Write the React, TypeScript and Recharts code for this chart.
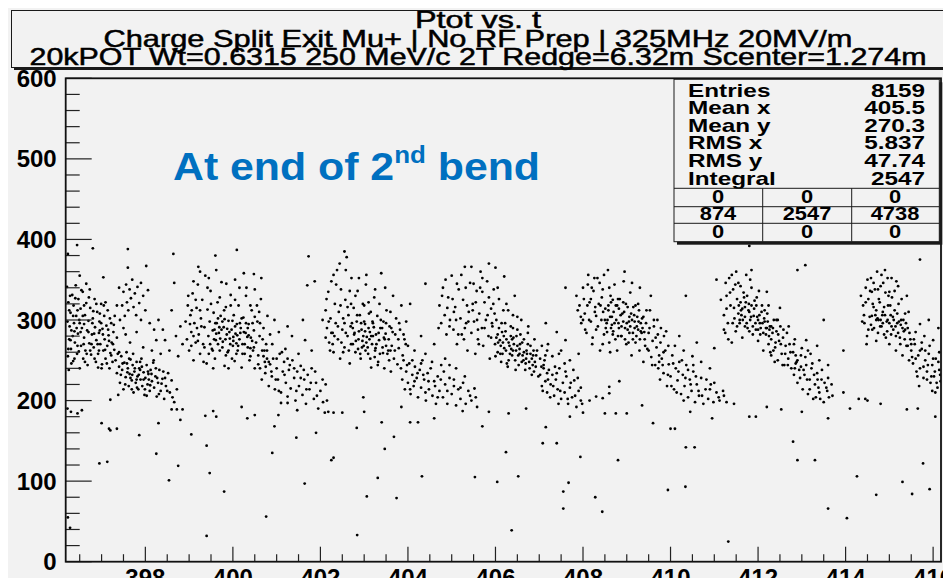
import { ScatterChart, Scatter, XAxis, YAxis } from 'recharts';

// axis ticks (labels every 2 ns / 100 MeV/c, minor ticks in between)
const xLabels = [398, 400, 402, 404, 406, 408, 410, 412, 414, 416];
const yLabels = [0, 100, 200, 300, 400, 500, 600];
const xTicks: number[] = [];
for (let v = 396.5; v <= 416.01; v += 0.5) xTicks.push(+v.toFixed(1));
const yTicks: number[] = [];
for (let v = 0; v <= 600; v += 20) yTicks.push(v);

const titleLines = [
  'Ptot vs. t',
  'Charge Split Exit Mu+ | No RF Prep | 325MHz 20MV/m',
  '20kPOT Wt=0.6315 250 MeV/c 2T Redge=6.32m Scenter=1.274m',
];
const statNames = ['Entries', 'Mean x', 'Mean y', 'RMS x', 'RMS y', 'Integral'];
const statValues = ['8159', '405.5', '270.3', '5.837', '47.74', '2547'];
const overflowRows = [
  ['0', '0', '0'],
  ['874', '2547', '4738'],
  ['0', '0', '0'],
];

// [t, Ptot], one bunch at a time
const bunchA = [
  [396.21,341],[396.24,322],[396.22,298],[396.26,276],[396.23,255],[396.25,238],[396.29,309],[396.31,287],[396.3,264],[396.33,331],
  [396.35,249],[396.37,296],[396.36,318],[396.39,272],[396.41,343],[396.42,305],[396.44,258],[396.46,283],[396.47,326],[396.5,240],
  [396.49,300],[396.53,268],[396.52,314],[396.55,290],[396.57,335],[396.58,252],[396.6,278],[396.62,306],[396.63,262],[396.65,321],
  [396.67,287],[396.68,244],[396.7,299],[396.72,271],[396.74,315],[396.73,338],[396.76,257],[396.78,282],[396.8,302],[396.82,266],
  [396.84,326],[396.85,291],[396.87,248],[396.88,275],[396.9,310],[396.92,258],[396.94,284],[396.95,298],[396.97,270],[396.99,320],
  [397.01,245],[397.02,289],[397.04,262],[397.06,305],[397.07,276],[397.09,252],[397.11,293],[397.13,268],[397.14,312],[397.16,281],
  [397.18,240],[397.2,259],[397.22,296],[397.23,272],[397.25,248],[397.27,285],[397.29,263],[397.3,305],[396.28,330],[396.45,312],
  [396.6,295],[396.34,280],[396.77,270],[396.96,287],[397.08,263],
  [397.32,250],[397.35,234],[397.37,258],[397.4,242],[397.42,222],[397.45,255],[397.47,238],[397.5,214],[397.52,247],[397.55,229],
  [397.57,260],[397.6,240],[397.62,218],[397.64,233],[397.66,251],[397.69,225],[397.71,244],[397.73,210],[397.75,236],[397.78,222],
  [397.8,248],[397.82,230],[397.84,214],[397.86,240],[397.89,226],[397.91,252],[397.93,218],[397.96,235],[397.98,207],[398.0,228],
  [398.03,244],[398.05,220],[398.07,233],[398.1,212],[398.12,238],[398.15,224],[398.18,247],[398.2,216],[398.23,230],[398.26,205],
  [398.29,222],[398.32,238],[398.35,212],[398.39,227],[398.43,202],[398.47,218],[398.52,234],[398.56,210],[398.6,225],[398.66,198],
  [398.72,214],[397.58,246],[397.88,238],[398.08,226],[397.7,232],
  [397.47,318],[397.5,335],[397.53,305],[397.56,344],[397.58,322],[397.61,312],[397.64,338],[397.67,327],[397.7,350],[397.73,316],
  [397.76,333],[397.79,306],[397.82,341],[397.86,321],[397.9,346],[397.95,330],[398.0,312],[398.06,337],
  [397.35,278],[397.5,290],[397.65,272],[397.8,285],[397.95,266],[398.1,296],[398.25,275],[398.4,288],[398.55,262],[398.7,280],
  [398.85,270],[398.3,300],[398.6,312],[398.15,262],[397.42,300],
];
const fillA = [
  [396.27,292],[396.71,328],[396.38,252],[397.05,318],[396.59,270],[396.92,241],[396.26,312],[397.19,302],[396.48,261],[396.83,283],
  [397.12,246],[396.4,327],[396.66,258],[396.99,296],[396.31,246],[397.26,270],[396.54,337],[396.79,296],[397.03,282],[396.43,290],
  [396.88,320],[396.62,248],[397.15,288],[396.35,305],[396.74,262],[396.96,308],[396.52,285],[397.22,256],[396.29,275],[396.84,252],
  [397.09,322],[396.57,305],[396.45,268],[396.91,270],[396.7,285],[397.28,294],[396.24,264],[396.65,345],[397.0,240],[396.38,286],
  [396.81,311],[397.17,274],[396.5,296],[396.94,262],[396.6,318],
  [397.44,232],[397.81,216],[398.14,233],[397.63,252],[398.37,221],[397.92,242],[397.54,220],[398.24,240],[397.72,258],[398.45,228],
  [397.99,214],[397.66,228],[398.31,208],[397.85,232],[397.48,246],[398.11,219],[397.76,240],[398.5,212],[397.96,226],[398.19,250],
  [397.59,235],[398.03,206],[397.88,248],[398.41,236],[397.69,214],[398.27,228],[397.4,260],[398.62,204],[397.8,226],[398.06,236],
  [397.35,318],[397.55,282],[398.2,288],[398.45,275],[398.8,292],[398.35,258],[397.9,300],[398.75,255],[397.6,365],[397.4,340],
];

const bunchB = [
  [398.92,298],[398.95,276],[398.97,318],[399.0,262],[399.03,306],[399.05,285],[399.08,333],[399.1,250],[399.12,296],[399.15,272],
  [399.17,315],[399.2,344],[399.22,282],[399.25,258],[399.27,302],[399.3,325],[399.32,270],[399.35,291],[399.37,355],[399.4,246],
  [399.42,313],[399.44,280],[399.47,298],[399.49,336],[399.52,264],[399.54,287],[399.56,309],[399.59,252],[399.61,275],[399.63,296],
  [399.65,322],[399.68,284],[399.7,262],[399.72,305],[399.74,347],[399.77,273],[399.79,291],[399.81,243],[399.84,316],[399.86,282],
  [399.88,260],[399.9,299],[399.93,277],[399.95,331],[399.97,288],[400.0,268],[400.02,306],[400.04,249],[400.06,283],[400.09,295],
  [400.11,262],[400.13,318],[400.15,276],[400.18,290],[400.2,241],[400.22,270],[400.24,303],[400.27,258],[400.29,284],[400.31,340],
  [400.34,266],[400.36,295],[400.38,250],[400.41,278],[400.43,312],[400.46,262],[400.48,287],[400.5,240],[400.53,272],[400.56,298],
  [400.58,256],[400.61,280],[400.64,326],[400.67,262],[400.7,290],[400.73,248],[400.76,270],[400.79,305],[399.58,288],[399.66,270],
  [399.76,298],[399.83,276],[399.92,285],[400.01,279],[400.08,271],[400.16,296],[400.25,285],[400.33,279],[400.45,296],[399.48,270],
  [399.18,290],[399.06,312],[400.6,310],[399.98,252],[400.4,265],
  [399.25,360],[399.45,352],[399.62,362],[399.85,345],[400.05,350],[400.25,358],[400.5,338],[399.1,348],
  [400.62,240],[400.66,226],[400.7,255],[400.74,234],[400.78,262],[400.82,218],[400.85,245],[400.89,230],[400.92,252],[400.96,214],
  [401.0,240],[401.03,226],[401.07,258],[401.1,210],[401.14,236],[401.17,248],[401.21,222],[401.25,205],[401.28,238],[401.32,215],
  [401.36,250],[401.4,228],[401.43,200],[401.47,236],[401.51,218],[401.55,243],[401.59,207],[401.63,226],[401.67,196],[401.71,232],
  [401.75,214],[401.8,240],[401.85,202],[401.9,222],[401.95,190],[402.0,212],[402.06,198],[402.12,220],[402.18,186],[400.9,270],
  [401.2,264],[401.5,258],[401.8,262],[401.65,275],[401.35,280],[401.05,285],[400.95,300],[401.25,292],[401.6,300],
];
const fillB = [
  [399.62,283],[400.12,268],[399.81,301],[400.36,281],[399.54,262],[400.05,292],[399.71,277],[400.22,258],[399.94,270],[400.44,274],
  [399.66,302],[400.17,284],[399.87,289],[400.3,296],[399.57,276],[400.08,258],[399.76,266],[400.27,270],[399.99,299],[400.4,255],
  [399.69,291],[400.2,302],[399.9,262],[400.34,290],[399.6,296],[400.1,281],[399.84,256],[400.48,266],[399.74,288],[400.01,274],
  [399.05,268],[399.33,248],[398.98,330],[399.28,292],[400.62,296],[400.72,262],[399.15,325],[400.55,318],[399.42,340],[400.85,282],
  [399.1,280],[400.68,276],[399.35,266],[400.5,304],[399.02,295],[399.5,320],[400.3,330],[399.95,318],[400.15,340],[399.7,328],
  [399.2,274],[400.78,252],[399.45,258],[400.58,245],[399.25,312],[399.8,312],[400.4,318],[399.9,240],[400.05,325],[399.55,240],
  [400.82,248],[401.18,232],[401.45,212],[400.98,226],[401.62,238],[401.3,244],[401.05,212],[401.78,222],[400.88,236],[401.55,228],
  [401.92,206],[401.25,252],[400.75,242],[401.4,240],[401.68,214],[402.05,226],[401.12,260],[401.88,236],[402.15,200],[401.0,252],
];

const bunchC = [
  [402.12,312],[402.15,290],[402.18,335],[402.2,272],[402.23,302],[402.25,348],[402.28,284],[402.3,260],[402.33,320],[402.35,296],
  [402.38,362],[402.4,276],[402.42,310],[402.45,252],[402.47,338],[402.5,288],[402.52,302],[402.55,266],[402.57,325],[402.6,378],
  [402.62,280],[402.64,306],[402.67,246],[402.69,292],[402.71,352],[402.74,270],[402.76,315],[402.78,284],[402.8,260],[402.83,298],
  [402.85,336],[402.87,276],[402.9,306],[402.92,252],[402.94,288],[402.97,320],[402.99,268],[403.02,295],[403.04,344],[403.06,279],
  [403.09,258],[403.11,308],[403.13,285],[403.16,241],[403.18,270],[403.2,296],[403.23,328],[403.25,262],[403.27,282],[403.3,305],
  [403.32,248],[403.34,275],[403.37,290],[403.39,358],[403.42,266],[403.44,298],[403.46,240],[403.49,283],[403.51,312],[403.53,258],
  [403.56,276],[403.58,292],[403.61,236],[403.63,268],[403.66,330],[403.68,252],[403.71,282],[403.73,302],[403.76,245],[403.79,265],
  [403.82,288],[403.85,318],[403.88,256],[403.92,276],[403.96,298],[402.88,286],[402.96,274],[403.03,262],[403.1,290],[403.2,280],
  [403.28,270],[403.36,258],[403.45,278],[403.55,262],[403.65,285],[402.72,296],[402.58,284],[402.48,272],[402.32,280],[402.22,262],
  [402.65,262],[403.15,310],[403.0,318],[403.5,296],[402.05,300],
  [403.84,240],[403.87,226],[403.9,250],[403.93,214],[403.96,236],[404.0,222],[404.03,246],[404.06,208],[404.1,232],[404.13,218],
  [404.16,242],[404.2,228],[404.23,204],[404.27,238],[404.3,216],[404.33,250],[404.37,226],[404.41,200],[404.45,234],[404.48,214],
  [404.52,240],[404.56,206],[404.6,224],[404.64,196],[404.68,230],[404.72,212],[404.76,244],[404.8,204],[404.85,220],[404.9,196],
  [404.95,228],[405.0,208],[405.05,218],[405.1,194],[405.15,214],[405.2,202],[405.26,222],[405.32,196],[405.38,212],[405.45,200],
  [405.52,215],[405.58,192],[404.15,262],[404.4,258],[404.6,270],[404.85,252],[405.1,240],[404.3,280],[404.0,268],[404.7,290],
  [405.3,230],
];
const fillC = [
  [402.86,264],[403.22,291],[402.77,282],[403.43,259],[403.05,272],[402.93,296],[403.33,284],[403.14,252],[402.81,274],[403.5,268],
  [403.02,286],[403.26,265],[402.91,258],[403.41,290],[403.12,276],[402.74,290],[403.57,250],[403.19,298],[402.98,280],[403.31,244],
  [403.08,266],[402.84,306],[403.47,276],[403.24,254],[402.95,266],[403.38,300],[403.16,280],[403.6,262],[402.7,270],[403.0,298],
  [402.14,326],[402.36,344],[402.58,362],[402.25,284],[402.46,318],[402.67,336],[402.19,298],[402.4,292],[402.62,316],[402.3,356],
  [402.52,260],[402.12,278],[402.8,330],[403.05,356],[403.35,320],[403.6,310],[403.8,296],[403.95,270],[402.44,370],[402.88,352],
  [403.25,338],[403.7,262],[403.9,282],[402.28,270],[402.7,320],[403.48,340],[403.78,276],[402.55,296],[403.1,322],[403.62,290],
  [403.98,244],[404.35,232],[404.62,218],[404.1,250],[404.47,224],[404.9,212],[404.22,234],[404.75,226],[404.05,214],[404.55,248],
  [405.05,226],[404.4,210],[404.82,236],[405.2,216],[404.3,246],[404.68,204],[405.42,206],[404.15,224],[404.95,244],[405.55,204],
];

const bunchD = [
  [404.72,318],[404.76,296],[404.8,340],[404.84,306],[404.88,282],[404.92,328],[404.96,300],[405.0,355],[405.04,288],[405.08,316],
  [405.12,270],[405.16,338],[405.2,302],[405.23,282],[405.26,325],[405.3,366],[405.33,296],[405.36,262],[405.39,310],[405.42,346],
  [405.45,284],[405.48,320],[405.51,298],[405.54,258],[405.57,336],[405.6,276],[405.63,308],[405.66,360],[405.69,290],[405.72,268],
  [405.75,322],[405.78,300],[405.81,348],[405.84,280],[405.87,252],[405.9,314],[405.93,292],[405.96,338],[405.99,270],[406.02,300],
  [406.05,282],[406.08,326],[406.11,258],[406.14,296],[406.17,272],[406.2,354],[406.23,286],[406.26,246],[406.29,312],[406.32,268],
  [406.35,292],[406.38,256],[406.41,278],[406.44,330],[406.47,262],[406.5,288],[406.53,244],[406.56,270],[406.59,300],[406.62,256],
  [406.65,276],[406.68,238],[406.71,262],[406.74,284],[406.77,248],[406.8,268],[406.83,232],[406.86,256],[406.89,276],[406.92,242],
  [406.95,262],[406.98,230],[407.02,252],[407.06,268],[407.1,240],[407.14,256],[407.18,234],[406.0,255],[406.1,275],[406.2,265],
  [406.3,250],[406.4,262],[406.5,268],[406.6,248],[406.7,252],[406.8,258],[406.9,248],[406.05,260],[406.25,276],[406.45,250],
  [406.65,260],[406.85,244],[406.15,285],[406.35,280],[406.55,258],[405.5,345],[405.7,335],[405.95,320],[406.18,312],[406.4,306],
  [405.3,290],[405.1,300],[404.9,315],[405.85,370],[406.0,365],[405.6,288],
  [407.02,232],[407.06,218],[407.1,244],[407.14,224],[407.18,210],[407.22,238],[407.26,220],[407.3,232],[407.34,206],[407.38,226],
  [407.42,214],[407.46,240],[407.5,202],[407.54,222],[407.58,210],[407.62,230],[407.66,196],[407.7,216],[407.75,204],[407.8,225],
  [407.85,192],[407.9,212],[407.95,200],[407.3,255],[407.5,262],[407.7,250],[407.9,258],[407.2,270],[407.6,275],[407.4,285],
  [407.15,296],
];
const fillD = [
  [406.06,272],[406.52,256],[406.24,262],[406.78,240],[406.13,248],[406.61,272],[406.33,258],[406.87,262],[406.42,270],[406.19,280],
  [406.69,246],[406.28,242],[406.57,282],[406.08,290],[406.83,252],[406.38,276],[406.74,270],[406.16,258],[406.46,238],[406.93,256],
  [406.22,296],[406.64,250],[406.36,264],[406.02,278],[406.88,236],[406.48,280],[406.72,258],[406.12,268],[406.55,264],[406.3,272],
  [404.78,330],[405.05,310],[405.32,340],[405.58,300],[405.85,328],[404.95,292],[405.22,356],[405.48,312],[405.75,290],[405.02,326],
  [405.28,276],[405.55,322],[405.82,306],[405.12,345],[405.38,298],[405.65,340],[405.92,296],[404.86,350],[405.45,366],[405.7,352],
  [405.98,308],[406.25,320],[406.5,304],[406.75,292],[405.15,282],[405.62,270],[406.05,340],[406.4,290],[405.35,318],[405.9,278],
  [407.05,242],[407.32,218],[407.6,236],[407.2,226],[407.48,212],[407.82,206],[407.12,250],[407.4,234],[407.72,222],[407.95,216],
  [407.25,204],[407.58,246],[407.88,228],[407.08,212],[407.45,258],[407.65,202],[407.36,242],[407.98,196],[407.18,262],[407.78,238],
];

const bunchE = [
  [407.92,318],[407.96,296],[408.0,340],[408.04,308],[408.08,284],[408.12,356],[408.15,322],[408.18,298],[408.21,270],[408.24,336],
  [408.27,310],[408.3,288],[408.33,352],[408.36,320],[408.39,262],[408.42,300],[408.45,338],[408.48,282],[408.51,314],[408.54,296],
  [408.57,362],[408.6,272],[408.63,330],[408.66,304],[408.69,286],[408.72,344],[408.75,318],[408.78,262],[408.81,296],[408.84,326],
  [408.87,280],[408.9,308],[408.93,348],[408.96,290],[408.99,270],[409.02,316],[409.05,298],[409.08,334],[409.11,256],[409.14,284],
  [409.17,306],[409.2,272],[409.23,292],[409.26,320],[409.29,262],[409.32,286],[409.35,302],[409.38,248],[409.41,276],[409.44,296],
  [409.47,264],[409.5,284],[409.53,312],[409.56,254],[409.59,274],[409.62,292],[409.65,244],[409.68,266],[409.71,282],[409.74,256],
  [409.77,272],[408.5,300],[408.58,318],[408.64,290],[408.7,310],[408.76,300],[408.82,314],[408.88,292],[408.94,310],[409.0,296],
  [409.06,284],[409.12,300],[409.18,290],[409.24,304],[409.3,276],[409.36,290],[408.55,285],[408.68,325],[408.8,280],[408.92,322],
  [409.04,272],[409.15,316],[409.27,298],[409.4,285],[408.4,318],[408.3,305],[408.2,340],[408.1,318],[408.0,300],[407.85,330],
  [408.45,270],[408.62,260],[409.7,300],[409.55,330],[409.85,280],[409.95,268],
  [409.72,240],[409.76,226],[409.8,252],[409.84,234],[409.88,262],[409.92,218],[409.96,245],[410.0,230],[410.04,256],[410.08,214],
  [410.12,240],[410.16,225],[410.2,248],[410.24,208],[410.28,232],[410.32,218],[410.36,244],[410.4,204],[410.44,226],[410.48,212],
  [410.52,236],[410.56,198],[410.6,220],[410.65,206],[410.7,228],[410.75,196],[410.8,214],[410.86,202],[410.92,220],[410.98,198],
  [411.05,210],[411.12,200],[411.2,212],[411.28,198],[410.1,268],[410.3,262],[410.5,255],[410.7,248],[410.9,240],[410.2,280],
  [410.6,272],[411.0,265],
];
const fillE = [
  [408.62,304],[409.08,292],[408.78,318],[409.22,280],[408.52,290],[408.96,276],[408.72,296],[409.32,296],[408.86,306],[409.14,276],
  [408.58,312],[409.02,288],[408.68,282],[409.28,312],[408.92,298],[409.2,318],[408.82,290],[409.38,304],[408.64,322],[409.1,308],
  [408.74,276],[409.26,288],[408.98,320],[408.56,300],[409.18,298],[408.88,280],[409.34,284],[408.8,326],[409.06,304],[408.66,294],
  [407.95,304],[408.18,326],[408.38,346],[408.05,288],[408.28,316],[408.48,356],[408.11,344],[408.34,292],[407.88,312],[408.22,278],
  [408.43,328],[408.02,326],[408.26,352],[408.46,310],[408.14,300],[409.45,312],[409.62,300],[409.78,290],[409.5,262],[409.66,278],
  [409.84,260],[409.58,244],[409.42,268],[409.74,248],[409.9,286],[409.3,340],[409.12,346],[408.95,360],[408.6,340],[409.52,290],
  [409.82,244],[410.18,236],[410.46,220],[409.94,232],[410.34,228],[410.64,212],[410.06,246],[410.4,238],[410.72,206],[410.02,218],
  [410.58,230],[410.9,214],[410.26,250],[410.82,226],[411.1,204],[410.14,210],[410.52,244],[411.0,222],[411.22,206],[410.3,200],
];

const bunchF = [
  [411.22,306],[411.25,284],[411.28,330],[411.31,296],[411.34,352],[411.37,318],[411.4,272],[411.43,338],[411.46,302],[411.49,286],
  [411.52,326],[411.55,346],[411.58,296],[411.61,312],[411.64,278],[411.67,334],[411.7,304],[411.73,356],[411.76,290],[411.79,320],
  [411.82,300],[411.85,340],[411.88,282],[411.91,314],[411.94,296],[411.97,328],[412.0,274],[412.03,306],[412.06,290],[412.09,318],
  [412.12,262],[412.15,298],[412.18,282],[412.21,308],[412.24,270],[412.27,292],[412.3,256],[412.33,284],[412.36,300],[412.39,266],
  [412.42,286],[412.45,250],[412.48,274],[412.51,292],[412.54,258],[412.57,278],[412.6,244],[412.63,268],[412.66,284],[412.69,252],
  [412.72,270],[412.76,240],[412.8,260],[412.84,276],[412.88,248],[411.6,322],[411.7,316],[411.8,310],[411.9,305],[412.0,300],
  [412.1,296],[412.2,290],[412.3,276],[412.4,272],[411.65,300],[411.75,330],[411.85,318],[411.95,288],[412.05,282],[412.15,312],
  [412.25,280],[412.35,262],[411.45,315],[411.55,308],[411.5,360],[411.85,362],[412.2,335],[412.5,315],[412.9,362],[413.08,368],
  [411.15,325],[412.45,300],[412.7,292],
  [412.82,232],[412.86,246],[412.9,222],[412.94,238],[412.98,256],[413.02,214],[413.06,232],[413.1,244],[413.14,208],[413.18,226],
  [413.22,240],[413.26,202],[413.3,220],[413.35,234],[413.4,210],[413.45,226],[413.5,198],[413.56,216],[413.62,204],[413.68,220],
  [413.0,265],[413.2,258],[413.4,250],[413.6,244],[413.1,275],[413.35,268],
];
const fillF = [
  [411.62,306],[411.96,318],[411.74,296],[412.14,302],[411.56,318],[411.88,292],[412.22,298],[411.68,328],[412.04,296],[411.8,286],
  [412.18,290],[411.58,300],[411.92,324],[411.7,292],[412.08,310],[411.84,304],[412.26,288],[411.64,314],[412.0,288],[411.78,312],
  [412.12,284],[411.52,292],[411.98,304],[411.72,322],[412.3,292],
  [411.28,314],[411.42,296],[411.36,334],[411.22,288],[411.48,344],[411.32,276],[411.4,356],[411.6,342],[411.82,350],[412.02,336],
  [412.24,318],[412.42,300],[412.58,288],[412.74,260],[412.38,248],[412.62,258],[412.52,270],[412.82,270],[412.46,282],[412.68,244],
  [412.28,260],[412.56,244],[412.86,256],[411.26,346],[412.34,290],
  [412.84,240],[413.12,226],[413.38,216],[412.96,228],[413.24,246],[413.52,222],[413.04,238],[413.32,204],[413.6,228],[412.9,250],
  [413.18,214],[413.46,238],[413.7,206],[413.08,254],[413.28,232],[413.42,202],[413.58,212],[413.14,262],[412.98,242],[413.36,226],
];

const bunchG = [
  [414.4,318],[414.43,296],[414.46,340],[414.49,280],[414.52,326],[414.55,304],[414.58,352],[414.61,288],[414.64,316],[414.67,338],
  [414.7,274],[414.73,302],[414.76,326],[414.79,292],[414.82,356],[414.85,310],[414.88,282],[414.91,334],[414.94,298],[414.97,318],
  [415.0,270],[415.03,306],[415.06,328],[415.09,288],[415.12,312],[415.15,262],[415.18,296],[415.21,320],[415.24,278],[415.27,300],
  [415.3,256],[415.33,286],[415.36,308],[415.39,268],[415.42,290],[415.45,250],[415.48,276],[414.6,305],[414.7,312],[414.8,300],
  [414.9,306],[415.0,296],[415.1,300],[415.2,284],[415.3,290],[414.65,290],[414.75,300],[414.85,296],[414.95,286],[415.05,292],
  [415.15,280],[415.25,270],[415.35,276],[414.6,335],[414.8,342],[415.0,335],[415.2,342],[415.05,352],[414.9,362],[414.5,350],
  [414.35,330],[415.7,375],[415.4,330],
  [415.5,262],[415.54,246],[415.58,270],[415.62,236],[415.66,256],[415.7,240],[415.74,264],[415.78,228],[415.82,250],[415.86,236],
  [415.9,258],[415.94,222],[415.98,244],[416.02,230],[416.06,252],[416.1,216],[416.14,238],[416.17,224],[415.6,285],[415.8,280],
  [416.0,275],[416.12,290],[415.9,300],[415.7,295],[416.05,210],
];
const fillG = [
  [414.68,306],[415.02,318],[414.82,292],[415.18,308],[414.62,320],[414.96,300],[415.26,294],[414.74,284],[415.08,304],[414.88,316],
  [415.32,300],[414.58,294],[414.92,278],[415.14,292],[414.78,322],[415.22,298],[414.7,300],[415.04,282],[414.84,306],[415.36,288],
  [414.42,306],[414.52,288],[414.46,322],[414.56,336],[414.64,346],[414.74,338],[414.86,346],[414.98,330],[415.12,336],[415.28,326],
  [415.44,310],[415.38,296],[415.46,284],[415.5,270],[415.42,268],[414.48,270],[414.38,298],[414.96,352],[415.16,348],[414.72,360],
  [415.52,254],[415.7,262],[415.88,244],[416.04,236],[415.6,252],[415.78,242],[415.96,230],[416.12,248],[415.64,230],[415.82,262],
  [416.0,252],[416.16,232],[415.56,276],[415.74,272],[415.92,268],[416.08,222],[415.68,218],[415.86,226],[416.14,260],[415.98,212],
];

const stragglers = [
  [396.22,190],[396.3,186],[396.45,184],[396.55,188],[397.0,172],[397.17,165],[397.35,165],[396.95,122],[397.13,124],[396.23,55],
  [396.28,42],[396.23,382],[396.44,393],[396.8,389],[397.6,388],[396.5,355],[397.04,353],[397.2,163],[397.86,157],[398.25,134],
  [399.4,144],[400.9,135],[401.45,154],[402.3,129],[402.83,166],[397.2,201],[397.38,207],[398.8,176],[398.6,189],[398.72,189],
  [398.85,189],[399.37,181],[399.62,180],[399.55,187],[400.33,178],[400.5,182],[401.04,182],[401.47,188],[402.1,185],[402.3,185],
  [402.5,185],[401.1,197],[401.25,197],[403.4,173],[403.68,155],[403.47,140],[404.05,173],[404.23,173],[402.98,204],[405.25,187],
  [405.85,186],[406.3,184],[407.15,167],[407.08,147],[407.4,147],[406.24,136],[407.94,130],[408.0,185],[408.5,184],[408.75,184],
  [409.0,184],[408.6,209],[408.83,224],[408.6,217],[408.15,200],[408.3,205],[408.45,203],[407.44,196],[410.0,165],[410.1,165],
  [410.35,142],[410.55,142],[410.95,178],[411.8,180],[411.95,180],[412.53,189],[412.8,149],[415.4,189],[413.3,126],[413.95,210],
  [414.3,202],[414.45,202],[414.5,200],[411.8,392],[398.54,101],[398.75,119],[399.47,110],[399.4,32],[399.8,87],[400.76,56],
  [401.64,97],[402.25,126],[402.84,33],[403.06,81],[403.31,104],[403.74,79],[404.32,106],[405.53,105],[406.04,99],[406.37,39],
  [406.52,106],[407.55,87],[407.55,66],[407.67,98],[408.28,80],[408.44,62],[408.8,126],[409.94,89],[410.34,93],[411.32,25],
  [412.9,126],[413.6,66],[414.03,54],[414.26,106],[414.7,83],[415.3,99],[415.52,84],[415.77,122],[415.92,90],[398.64,382],
  [400.09,387],[401.73,379],[402.55,385],[398.02,367],[399.21,366],[400.48,357],[400.65,352],[398.66,346],[401.7,343],[401.87,348],
  [398.3,172],[399.05,158],[400.2,192],[400.95,168],[401.9,160],[403.0,186],[403.85,192],[404.6,178],[405.7,168],[406.7,190],
  [407.7,180],[409.35,194],[409.6,172],[410.45,186],[411.45,196],[412.2,192],[413.0,186],[413.6,178],[414.1,190],[414.8,196],
  [415.65,190],[416.05,180],[399.6,380],[404.4,345],[404.05,320],[407.6,340],[410.35,330],[411.05,350],[413.5,300],[413.95,262],
];

const points = [
  ...bunchA, ...fillA, ...bunchB, ...fillB, ...bunchC, ...fillC, ...bunchD, ...fillD,
  ...bunchE, ...fillE, ...bunchF, ...fillF, ...bunchG, ...fillG, ...stragglers,
].map(([t, p]) => ({ t, p }));

const font = '"Liberation Sans", Arial, Helvetica, sans-serif';
const bg = '#f2f2f2';

const Dot = (props: any) => <circle cx={props.cx} cy={props.cy} r={1.4} fill="#000" />;

const XTick = (props: any) => {
  const { x, y, payload } = props;
  const major = xLabels.includes(payload.value);
  return (
    <g>
      <line x1={x} x2={x} y1={y} y2={y - (major ? 15 : 7.5)} stroke="#222" strokeWidth={1.2} />
      {major && (
        <text x={x} y={y + 24} textAnchor="middle" fontSize={24} fontWeight="bold" fontFamily={font} fill="#000">
          {payload.value}
        </text>
      )}
    </g>
  );
};

const YTick = (props: any) => {
  const { x, y, payload } = props;
  const major = yLabels.includes(payload.value);
  return (
    <g>
      <line x1={x} x2={x + (major ? 26 : 14)} y1={y} y2={y} stroke="#222" strokeWidth={1.2} />
      {major && (
        <text x={x - 9} y={y + 8.5} textAnchor="end" fontSize={24} fontWeight="bold" fontFamily={font} fill="#000">
          {payload.value}
        </text>
      )}
    </g>
  );
};

const Wide = ({ x, y, anchor = 'start', size, sx = 1.28, children }: any) => (
  <text
    transform={`translate(${x} ${y}) scale(${sx} 1)`}
    textAnchor={anchor}
    fontSize={size}
    fontWeight="bold"
    fontFamily={font}
    fill="#000"
  >
    {children}
  </text>
);

const titleBase = [28, 46.7, 65];
const titleWidth = [126, 749, 897];
const statTop = 96.5;
const statStep = 17.66;
const rowBase = [202.7, 220, 238];
const colMid = [718, 807, 895];

export default function App() {
  return (
    <div style={{ position: 'relative', width: 943, height: 570, background: bg, fontFamily: font }}>
      <ScatterChart width={943} height={570} margin={{ top: 70.3, right: 10, bottom: 0.3, left: 0.7 }}>
        <XAxis
          type="number"
          dataKey="t"
          domain={[396.18, 416.18]}
          ticks={xTicks}
          interval={0}
          height={16}
          tickSize={0}
          tickMargin={0}
          axisLine={false}
          tickLine={false}
          allowDataOverflow
          tick={(p: any) => <XTick {...p} />}
        />
        <YAxis
          type="number"
          dataKey="p"
          domain={[0, 600]}
          ticks={yTicks}
          interval={0}
          width={57}
          tickSize={0}
          tickMargin={0}
          axisLine={false}
          tickLine={false}
          allowDataOverflow
          tick={(p: any) => <YTick {...p} />}
        />
        <Scatter data={points} shape={Dot} isAnimationActive={false} />
      </ScatterChart>

      <svg
        width={951}
        height={578}
        style={{ position: 'absolute', left: -8, top: -8, pointerEvents: 'none', overflow: 'visible' }}
      >
        {/* frame */}
        <rect x={65.7} y={78.3} width={875.3} height={483.4} fill="none" stroke="#111" strokeWidth={1.8} />

        {/* title box */}
        <rect x={14} y={13} width={934} height={57} fill="#1a1a1a" />
        <rect x={11.5} y={10.5} width={934} height={57} fill={bg} stroke="#1a1a1a" strokeWidth={1} />
        {titleLines.map((line, i) => (
          <text
            key={line}
            x={478}
            y={titleBase[i]}
            textAnchor="middle"
            fontSize={24}
            fontFamily={font}
            textLength={titleWidth[i]}
            lengthAdjust="spacingAndGlyphs"
            fill="#000"
            stroke="#000"
            strokeWidth={0.5}
          >
            {line}
          </text>
        ))}

        {/* stats box */}
        <rect x={677} y={82.3} width={265.3} height={162.4} fill="#1a1a1a" />
        <rect x={674} y={79.3} width={265.3} height={162.4} fill={bg} stroke="#1a1a1a" strokeWidth={1} />
        {statNames.map((name, i) => (
          <Wide key={name} x={688} y={statTop + i * statStep} size={19}>
            {name}
          </Wide>
        ))}
        {statValues.map((v, i) => (
          <Wide key={i} x={925} y={statTop + i * statStep} size={19} anchor="end">
            {v}
          </Wide>
        ))}
        {[188.3, 206.7, 223.3].map((yy) => (
          <line key={yy} x1={674} x2={939.3} y1={yy} y2={yy} stroke="#1a1a1a" strokeWidth={1} />
        ))}
        {[762.7, 851.7].map((xx) => (
          <line key={xx} x1={xx} x2={xx} y1={188.3} y2={241.7} stroke="#1a1a1a" strokeWidth={1} />
        ))}
        {overflowRows.map((row, r) =>
          row.map((cell, c) => (
            <Wide key={`${r}-${c}`} x={colMid[c]} y={rowBase[r]} size={19} sx={1.15} anchor="middle">
              {cell}
            </Wide>
          ))
        )}

        {/* annotation */}
        <text
          x={173}
          y={180}
          fontSize={38}
          fontWeight="bold"
          fontFamily='Arial, "Liberation Sans", sans-serif'
          fill="#0070c0"
          textLength={367}
          lengthAdjust="spacingAndGlyphs"
        >
          At end of 2
          <tspan dy={-17} fontSize={23}>nd</tspan>
          <tspan dy={17}> bend</tspan>
        </text>
      </svg>
    </div>
  );
}
